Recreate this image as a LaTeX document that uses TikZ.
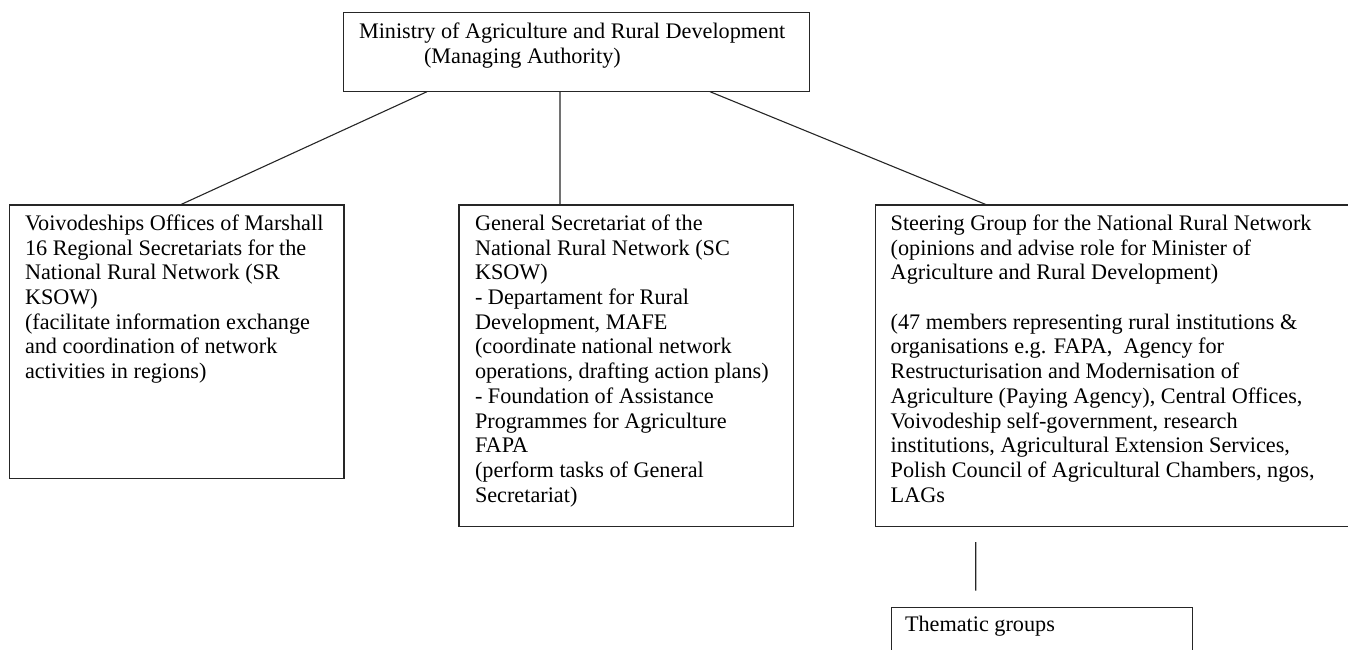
\documentclass[tikz,border=0pt]{standalone}
\usepackage{fontspec}
\setmainfont{Liberation Serif}
\begin{document}
\begin{tikzpicture}[x=1bp,y=-1bp,
  box/.style={draw=black!85,line width=1.2bp,inner sep=0pt,outer sep=0pt,rectangle},
  txt/.style={inner sep=0pt,outer sep=0pt,anchor=north west,align=left,font=\fontsize{22.3}{24.8}\selectfont,text=black},
  link/.style={draw=black!85,line width=1.1bp}]
\useasboundingbox (0,0) rectangle (1348,650);
% boxes
\node[box,minimum width=466bp,minimum height=79bp] (top) at (576.3,52.2) {};
\node[box,minimum width=334.7bp,minimum height=273.7bp] (left) at (176.65,341.85) {};
\node[box,minimum width=334.3bp,minimum height=321.7bp] (mid) at (626.15,365.85) {};
\node[box,minimum width=600bp,minimum height=321.7bp] (right) at (1175.7,365.85) {};
\node[box,minimum width=300.6bp,minimum height=70bp] (them) at (1042,642.3) {};
% texts
\node[txt] (toptext) at (359,39-17.36) {\strut Ministry of Agriculture and Rural Development\\
\hspace*{65bp}(Managing Authority)};
\node[txt] (lefttext) at (25,230.5-17.36) {\strut Voivodeships Offices of Marshall\\
16 Regional Secretariats for the\\
National Rural Network (SR\\
KSOW)\\
(facilitate information exchange\\
and coordination of network\\
activities in regions)};
\node[txt] (midtext) at (475,230.5-17.36) {\strut General Secretariat of the\\
National Rural Network (SC\\
KSOW)\\
- Departament for Rural\\
Development, MAFE\\
(coordinate national network\\
operations, drafting action plans)\\
- Foundation of Assistance\\
Programmes for Agriculture\\
FAPA\\
(perform tasks of General\\
Secretariat)};
\node[txt] (righttext) at (890.7,230.5-17.36) {\strut Steering Group for the National Rural Network\\
(opinions and advise role for Minister of\\
Agriculture and Rural Development)\\
\mbox{}\\
(47 members representing rural institutions \&\\
organisations e.g. FAPA,\ \ Agency for\\
Restructurisation and Modernisation of\\
Agriculture (Paying Agency), Central Offices,\\
Voivodeship self-government, research\\
institutions, Agricultural Extension Services,\\
Polish Council of Agricultural Chambers, ngos,\\
LAGs};
\node[txt] (themtext) at (905,631.7-17.36) {\strut Thematic groups};
% connectors
\draw[link] ([xshift=-149.3bp]top.south) -- ([xshift=3.3bp]left.north);
\draw[link] ([xshift=-16.3bp]top.south) -- ([xshift=-66.15bp]mid.north);
\draw[link] ([xshift=133.7bp]top.south) -- ([xshift=111.3bp]right.north west);
\draw[link] ([xshift=100bp,yshift=-15.3bp]right.south west) -- ([xshift=84bp,yshift=16.6bp]them.north west);
\end{tikzpicture}
\end{document}
